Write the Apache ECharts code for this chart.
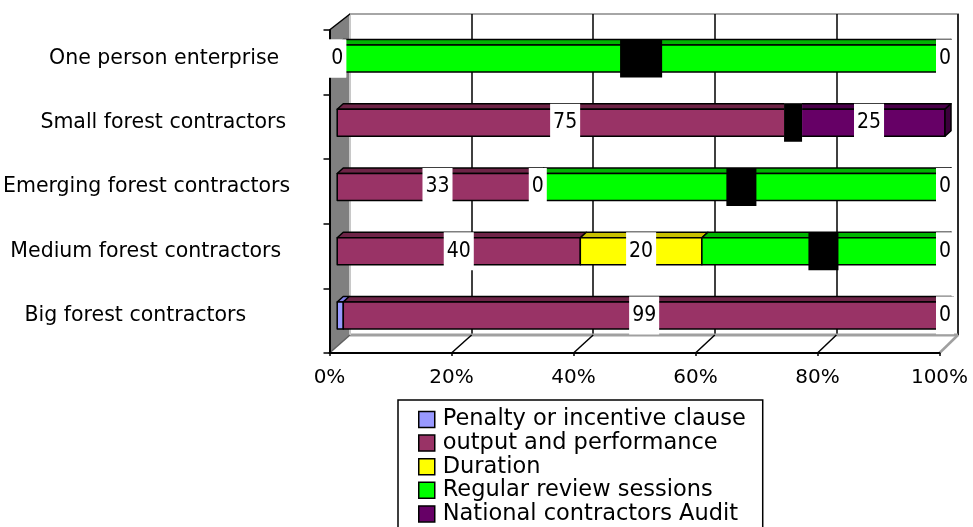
<!DOCTYPE html>
<html>
<head>
<meta charset="utf-8">
<script src="https://cdn.jsdelivr.net/npm/echarts@6/dist/echarts.min.js"></script>
<style>
  html, body { margin: 0; padding: 0; background: #ffffff; }
  #chart { width: 973px; height: 527px; }
</style>
</head>
<body>
<div id="chart"></div>
<script>
// Contractor groups, listed bottom to top as the category axis draws them
const categories = [
  'Big forest contractors',
  'Medium forest contractors',
  'Emerging forest contractors',
  'Small forest contractors',
  'One person enterprise'
];

// Share (%) of each contract element per group
const penalty  = [1, 0, 0, 0, 0];
const output   = [99, 40, 33, 75, 0];
const duration = [0, 20, 0, 0, 0];
const review   = [0, 40, 67, 0, 100];
const audit    = [0, 0, 0, 25, 0];

// Percent axis ticks
const percentTicks = [0, 20, 40, 60, 80, 100];

const FONT = "'DejaVu Sans', sans-serif";
const LABEL_FONT = "'DejaVu Sans Condensed', 'DejaVu Sans', sans-serif";

// 3D box layout: back wall, front plane and the bar plane in between
const BACK  = { left: 350, top: 14, right: 958, bottom: 335 };
const FRONT = { left: 329.5, top: 30, right: 939.5, bottom: 353 };
const BARS  = { left: 336, top: 26.4, right: 945, bottom: 347.6 };
const DEPTH = { dx: 6, dy: 5.5 };   // bar top-face offset
const BAR_RATIO = 0.42;             // front face height / band height

// Where each category label sits (right edge, vertical centre)
const labelAnchor = [[245, 315], [280, 243], [289, 180], [285, 116], [278, 64]];

const seriesDefs = [
  { name: 'Penalty or incentive clause', values: penalty,  front: '#9999FF', top: '#7f7fe6', side: '#6666cc', labelFill: null,   labelBg: null },
  { name: 'output and performance',      values: output,   front: '#993366', top: '#6e2447', side: '#5a1d3a', labelFill: '#000', labelBg: '#fff' },
  { name: 'Duration',                    values: duration, front: '#FFFF00', top: '#c8c000', side: '#a3a300', labelFill: '#000', labelBg: '#fff' },
  { name: 'Regular review sessions',     values: review,   front: '#00FF00', top: '#00b400', side: '#009200', labelFill: '#000', labelBg: '#000' },
  { name: 'National contractors Audit',  values: audit,    front: '#660066', top: '#4a004a', side: '#3a003a', labelFill: '#000', labelBg: '#fff' }
];

// Stack each series into [category, start, end, value]
const running = categories.map(() => 0);
const segments = seriesDefs.map(d => d.values.map((v, i) => {
  const s = running[i];
  running[i] += v;
  return [i, s, s + v, v];
}));

function barRenderer(def) {
  return function (params, api) {
    const ci = api.value(0), s = api.value(1), e = api.value(2);
    if (e - s <= 0) return null;
    const p0 = api.coord([s, ci]);
    const p1 = api.coord([e, ci]);
    const h = api.size([0, 1])[1] * BAR_RATIO;
    const x0 = p0[0], x1 = p1[0];
    const yt = p0[1] - h / 2, yb = p0[1] + h / 2;
    const dx = DEPTH.dx, dy = DEPTH.dy;
    const line = { stroke: '#000', lineWidth: 1.5, lineJoin: 'round' };
    const children = [
      { type: 'polygon', shape: { points: [[x0, yt], [x0 + dx, yt - dy], [x1 + dx, yt - dy], [x1, yt]] },
        style: Object.assign({ fill: def.top }, line) },
      { type: 'rect', shape: { x: x0, y: yt, width: x1 - x0, height: yb - yt },
        style: Object.assign({ fill: def.front }, line) }
    ];
    if (e >= 100) {
      children.push({ type: 'polygon', shape: { points: [[x1, yt], [x1 + dx, yt - dy], [x1 + dx, yb - dy], [x1, yb]] },
        style: Object.assign({ fill: def.side }, line) });
    }
    return { type: 'group', children: children };
  };
}

function labelRenderer(def) {
  return function (params, api) {
    const ci = api.value(0), s = api.value(1), e = api.value(2), v = api.value(3);
    const p = api.coord([(s + e) / 2, ci]);
    return {
      type: 'text', x: p[0], y: p[1],
      style: {
        text: String(v), fill: def.labelFill, backgroundColor: def.labelBg,
        padding: [9, 3, 8, 3], fontSize: 21, fontFamily: LABEL_FONT,
        align: 'center', verticalAlign: 'middle'
      }
    };
  };
}

const barSeries = seriesDefs.map((d, k) => ({
  type: 'custom', name: d.name, xAxisIndex: 2, yAxisIndex: 2, z: 3,
  itemStyle: { color: d.front, borderColor: '#000', borderWidth: 1.5 },
  encode: { x: [1, 2], y: 0 },
  data: segments[k],
  renderItem: barRenderer(d),
  silent: true
}));

const labelSeries = seriesDefs.map((d, k) => d.labelBg ? ({
  type: 'custom', name: d.name, xAxisIndex: 2, yAxisIndex: 2, z: 5,
  itemStyle: { color: d.front },
  encode: { x: [1, 2], y: 0 },
  data: segments[k],
  renderItem: labelRenderer(d),
  silent: true
}) : null).filter(Boolean);

// Category label styling: shift each label to its anchor
const bandH = (BARS.bottom - BARS.top) / categories.length;
const yAxisData = categories.map((c, i) => {
  const centre = BARS.bottom - (i + 0.5) * bandH;
  const shift = labelAnchor[i][1] - centre;
  return {
    value: c,
    textStyle: {
      padding: [shift > 0 ? 2 * shift : 0, BARS.left - labelAnchor[i][0], shift < 0 ? -2 * shift : 0, 0]
    }
  };
});

const grid = (b) => ({ left: b.left, top: b.top, width: b.right - b.left, height: b.bottom - b.top, containLabel: false });

// Wall, floor and floor tick diagonals of the 3D frame
const frame = [];
frame.push({ type: 'polygon', z: 1, silent: true,
  shape: { points: [[BACK.left, BACK.bottom], [BACK.right, BACK.bottom], [FRONT.right, FRONT.bottom], [FRONT.left, FRONT.bottom]] },
  style: { fill: '#ffffff' } });
frame.push({ type: 'line', z: 1, silent: true,
  shape: { x1: BACK.left, y1: BACK.bottom, x2: BACK.right, y2: BACK.bottom },
  style: { stroke: '#a0a0a0', lineWidth: 3 } });
frame.push({ type: 'polygon', z: 1, silent: true,
  shape: { points: [[FRONT.left, FRONT.top], [BACK.left, BACK.top], [BACK.left, BACK.bottom], [FRONT.left, FRONT.bottom]] },
  style: { fill: '#808080' } });
frame.push({ type: 'line', z: 1, silent: true,
  shape: { x1: BACK.left, y1: BACK.top, x2: BACK.left, y2: BACK.bottom },
  style: { stroke: '#c8c8c8', lineWidth: 2 } });
frame.push({ type: 'line', z: 1, silent: true,
  shape: { x1: FRONT.left, y1: FRONT.top, x2: BACK.left, y2: BACK.top },
  style: { stroke: '#000', lineWidth: 1.5 } });
frame.push({ type: 'line', z: 1, silent: true,
  shape: { x1: FRONT.left, y1: FRONT.bottom, x2: BACK.left, y2: BACK.bottom },
  style: { stroke: '#606060', lineWidth: 1.5 } });
percentTicks.forEach(t => {
  if (t === 0) return;
  const xf = FRONT.left + t / 100 * (FRONT.right - FRONT.left);
  const xb = BACK.left + t / 100 * (BACK.right - BACK.left);
  frame.push({ type: 'line', z: 1, silent: true,
    shape: { x1: xf, y1: FRONT.bottom, x2: xb, y2: BACK.bottom },
    style: { stroke: t === 100 ? '#a0a0a0' : '#000', lineWidth: t === 100 ? 2.5 : 1.5 } });
});

const chart = echarts.init(document.getElementById('chart'), null, { renderer: 'canvas' });
chart.setOption({
  animation: false,
  backgroundColor: '#ffffff',
  textStyle: { fontFamily: FONT },
  grid: [
    Object.assign(grid(BACK), { show: true, backgroundColor: '#ffffff', borderColor: '#a6a6a6', borderWidth: 2 }),
    grid(FRONT),
    grid(BARS)
  ],
  xAxis: [
    { type: 'value', gridIndex: 0, min: 0, max: 100, interval: 20,
      axisLine: { show: false }, axisTick: { show: false }, axisLabel: { show: false },
      splitLine: { show: true, lineStyle: { color: '#000', width: 1.5 } } },
    { type: 'value', gridIndex: 1, min: 0, max: 100, interval: 20, z: 2,
      axisLine: { show: true, onZero: false, lineStyle: { color: '#000', width: 2 } },
      axisTick: { show: true, length: 3, lineStyle: { color: '#000', width: 1.5 } },
      axisLabel: { show: true, formatter: '{value}%', fontSize: 20, fontFamily: FONT, color: '#000', margin: 15 },
      splitLine: { show: false } },
    { type: 'value', gridIndex: 2, min: 0, max: 100, show: false }
  ],
  yAxis: [
    { type: 'value', gridIndex: 0, show: false, splitLine: { show: false } },
    { type: 'category', gridIndex: 1, data: categories, z: 2,
      axisLine: { show: true, lineStyle: { color: '#000', width: 2 } },
      axisTick: { show: true, length: 6, lineStyle: { color: '#000', width: 1.5 } },
      axisLabel: { show: false } },
    { type: 'category', gridIndex: 2, data: yAxisData,
      axisLine: { show: false }, axisTick: { show: false },
      axisLabel: { show: true, margin: 0, fontSize: 20.5, fontFamily: FONT, color: '#000', align: 'right', verticalAlign: 'middle' } }
  ],
  legend: {
    orient: 'vertical', left: 398, top: 400, height: 160,
    padding: [8, 17, 10, 20], itemGap: 0.6, itemWidth: 16, itemHeight: 16,
    icon: 'rect', selectedMode: false,
    borderColor: '#000', borderWidth: 1.5,
    itemStyle: { borderColor: '#000', borderWidth: 1.5 },
    textStyle: { fontSize: 22.5, fontFamily: FONT, color: '#000', padding: [0, 0, 0, 3] },
    data: seriesDefs.map(d => d.name)
  },
  graphic: { elements: frame },
  series: barSeries.concat(labelSeries)
});
</script>
</body>
</html>
